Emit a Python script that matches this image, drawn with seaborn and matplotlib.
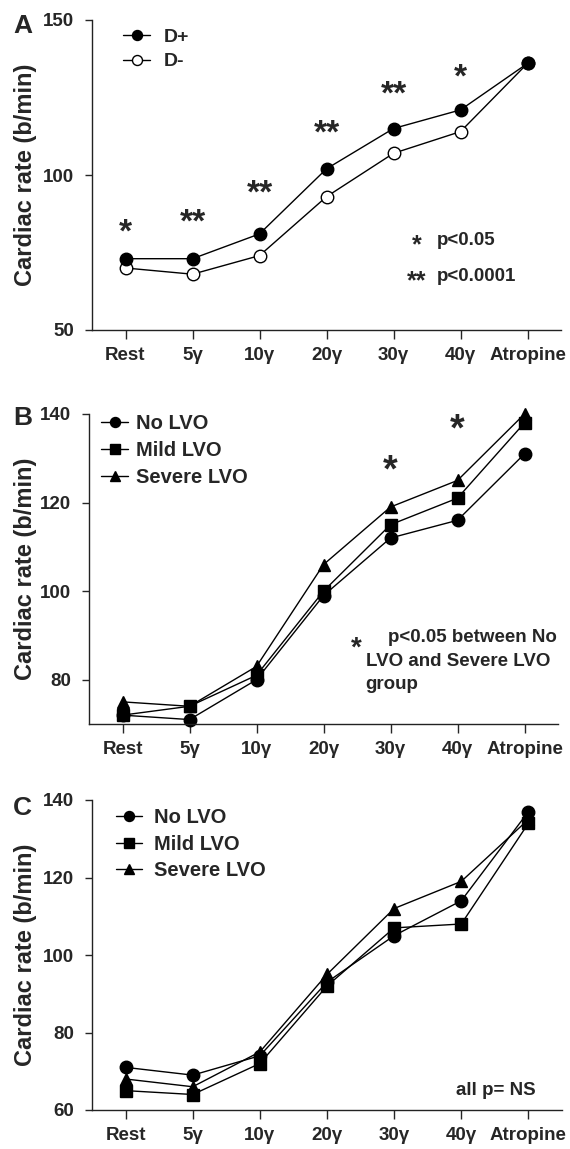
import numpy as np
import pandas as pd
import matplotlib
matplotlib.use("Agg")
import matplotlib.pyplot as plt
import matplotlib.transforms as mtransforms
import seaborn as sns

# dose steps on the x axis
doses = ["Rest", "5γ", "10γ", "20γ", "30γ", "40γ", "Atropine"]

# panel A - D+ vs D-
d_plus = [73, 73, 81, 102, 115, 121, 136]
d_minus = [70, 68, 74, 93, 107, 114, 136]

# panel B - LVO groups
b_no = [72, 71, 80, 99, 112, 116, 131]
b_mild = [72, 74, 81, 100, 115, 121, 138]
b_severe = [75, 74, 83, 106, 119, 125, 140]

# panel C - LVO groups
c_no = [71, 69, 74, 93, 105, 114, 137]
c_mild = [65, 64, 72, 92, 107, 108, 134]
c_severe = [68, 66, 75, 95, 112, 119, 135]

# significance marks above the points
a_stars = ["*", "**", "**", "**", "**", "*"]
a_star_y = [84, 87, 96.5, 116, 128.5, 134]
b_stars = {"30γ": 129, "40γ": 138.2}

sns.set_style("ticks")
plt.rcParams["font.family"] = ["Liberation Sans", "DejaVu Sans"]
plt.rcParams["font.weight"] = "bold"
plt.rcParams["axes.labelweight"] = "bold"
plt.rcParams["axes.linewidth"] = 1.0
plt.rcParams["axes.edgecolor"] = "#222222"

W, H = 570, 1149
fig = plt.figure(figsize=(W / 100, H / 100), dpi=100)


def add_axes(left, right, top, bottom):
    return fig.add_axes([left / W, 1 - bottom / H, (right - left) / W, (bottom - top) / H])


axA = add_axes(92, 561, 20, 330)
axB = add_axes(89, 558, 414, 724)
axC = add_axes(92, 562, 800, 1110)


def draw(ax, y, label, marker, fill="black", z=2):
    sns.lineplot(x=doses, y=y, ax=ax, sort=False, color="black", lw=1.0,
                 marker=marker, markersize=9, markerfacecolor=fill,
                 markeredgecolor="black", markeredgewidth=1.0,
                 label=label, clip_on=False, zorder=z)


def star(ax, x, y, s, size):
    # y is the visual centre of the asterisk
    ax.annotate(s, xy=(x, y), xytext=(0, -0.5 * size), textcoords="offset points",
                ha="center", va="baseline", fontsize=size, fontweight="bold")


def legend(ax, anchor, size, hl, pad, sp):
    ax.legend(loc="upper left", bbox_to_anchor=anchor, frameon=False,
              fontsize=size, handlelength=hl, handletextpad=pad, labelspacing=sp,
              borderpad=0, borderaxespad=0, markerscale=0.8)


# A
draw(axA, d_plus, "D+", "o", z=3)
draw(axA, d_minus, "D-", "o", fill="white", z=2)
for i, (s, yy) in enumerate(zip(a_stars, a_star_y)):
    star(axA, doses[i], yy, s, 24)
star(axA, 4.34, 79.0, "*", 18)
star(axA, 4.34, 67.5, "**", 18)
axA.text(4.64, 78.8, "p<0.05", fontsize=13.5, va="center")
axA.text(4.64, 67.2, "p<0.0001", fontsize=13.5, va="center")
axA.set_ylim(50, 150)
axA.set_yticks([50, 100, 150])
legend(axA, (0.066, 0.974), 14, 1.4, 0.7, 0.37)

# B
draw(axB, b_no, "No LVO", "o")
draw(axB, b_mild, "Mild LVO", "s")
draw(axB, b_severe, "Severe LVO", "^")
for k, yy in b_stars.items():
    star(axB, k, yy, "*", 27)
star(axB, 3.49, 88.6, "*", 20)
axB.text(3.96, 89.5, "p<0.05 between No", fontsize=13.5, va="center")
axB.text(3.63, 84.1, "LVO and Severe LVO", fontsize=13.5, va="center")
axB.text(3.63, 78.9, "group", fontsize=13.5, va="center")
axB.set_ylim(70, 140)
axB.set_yticks([80, 100, 120, 140])
legend(axB, (0.0256, 1.0), 14.5, 1.35, 0.4, 0.39)

# C
draw(axC, c_no, "No LVO", "o")
draw(axC, c_mild, "Mild LVO", "s")
draw(axC, c_severe, "Severe LVO", "^")
axC.text(4.92, 65.1, "all p= NS", fontsize=13.5, va="center")
axC.set_ylim(60, 140)
axC.set_yticks([60, 80, 100, 120, 140])
legend(axC, (0.051, 0.975), 14.5, 1.3, 0.6, 0.39)

for ax, letter, base in [(axA, "A", 33), (axB, "B", 425), (axC, "C", 815)]:
    ax.set_xlim(-0.5, 6.5)
    ax.set_xlabel("")
    ax.set_ylabel("Cardiac rate (b/min)", fontsize=17, fontweight="bold")
    tr = mtransforms.blended_transform_factory(fig.transFigure, ax.transAxes)
    ax.yaxis.set_label_coords(37 / W, 0.5, transform=tr)
    ax.tick_params(axis="x", direction="out", length=6.5, width=1, labelsize=13.5, pad=6)
    ax.tick_params(axis="y", direction="out", length=5, width=1, labelsize=13.5, pad=8)
    sns.despine(ax=ax)
    fig.text(13 / W, 1 - base / H, letter, fontsize=19, fontweight="bold", va="baseline")

fig.savefig("out.png", dpi=100)
